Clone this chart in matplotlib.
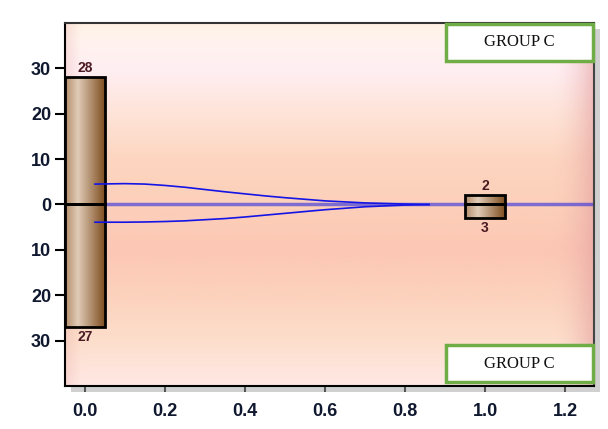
import numpy as np
import matplotlib
matplotlib.use("Agg")
import matplotlib.pyplot as plt
from matplotlib.patches import Rectangle
from matplotlib.colors import LinearSegmentedColormap

# ---- data ----
positions = [0.0, 1.0]
up_values = [28, 2]
down_values = [27, 3]
upper_x = [0.025, 0.1, 0.15, 0.2, 0.25, 0.3, 0.35, 0.4, 0.45, 0.5, 0.6, 0.7, 0.8, 0.86]
upper_y = [4.5, 4.6, 4.5, 4.2, 3.8, 3.3, 2.8, 2.35, 1.9, 1.5, 0.8, 0.35, 0.1, 0.0]
lower_x = [0.025, 0.1, 0.15, 0.2, 0.25, 0.3, 0.35, 0.4, 0.45, 0.5, 0.6, 0.7, 0.8, 0.86]
lower_y = [-3.9, -3.9, -3.85, -3.75, -3.6, -3.35, -3.1, -2.75, -2.35, -1.95, -1.15, -0.5, -0.12, 0.0]
xticks = [0.0, 0.2, 0.4, 0.6, 0.8, 1.0, 1.2]
xtick_labels = ["0.0", "0.2", "0.4", "0.6", "0.8", "1.0", "1.2"]
yticks = [-30, -20, -10, 0, 10, 20, 30]
ytick_labels = ["30", "20", "10", "0", "10", "20", "30"]
group_label = "GROUP C"

W, H = 608, 429
fig = plt.figure(figsize=(W / 100, H / 100), dpi=100)
fig.patch.set_facecolor("white")

L, R, T, B = 65, 594, 23, 386
ax = fig.add_axes([L / W, 1 - B / H, (R - L) / W, (B - T) / H])
ax.set_zorder(1)

# shadow
shadow = Rectangle(((L + 6) / W, 1 - (B + 6) / H), (R - L) / W, (B - T) / H,
                   transform=fig.transFigure, facecolor="#d0d0d0", edgecolor="none", zorder=-5)
fig.patches.append(shadow)

# background gradient
stops_px = np.array([23, 40, 70, 120, 160, 204, 250, 300, 340, 386])
stops_col = np.array([
    (255, 242, 228), (255, 243, 238), (255, 238, 242), (254, 226, 212),
    (253, 213, 192), (252, 208, 186), (252, 199, 180), (252, 211, 190),
    (253, 222, 203), (255, 232, 228)]) / 255.0
rows = np.linspace(23, 386, 200)
cols = np.linspace(65, 594, 300)
vert = np.stack([np.interp(rows, stops_px, stops_col[:, c]) for c in range(3)], axis=-1)
img = np.repeat(vert[:, None, :], len(cols), axis=1)
edge_col = np.array([228, 160, 160]) / 255.0
wr = (np.clip((cols - 550) / (594 - 550), 0, 1) ** 2) * 0.6
wl = np.clip((80 - cols) / 15, 0, 1) * 0.25
w = (wr + wl)[None, :, None]
img = img * (1 - w) + edge_col[None, None, :] * w
ax.imshow(img, extent=[0, 1, 0, 1], transform=ax.transAxes, aspect="auto",
          zorder=0, interpolation="bilinear")

# zero line
ax.axhline(0, color="#2a2ae0", alpha=0.6, lw=2.5, zorder=2)

# bars with gradient
bar_cmap = LinearSegmentedColormap.from_list(
    "barg", [(0.0, (0.70, 0.55, 0.41)), (0.32, (0.88, 0.80, 0.72)),
             (1.0, (0.50, 0.31, 0.13))])
grad = np.linspace(0, 1, 100)[None, :]
for vals, sign in ((up_values, 1), (down_values, -1)):
    bars = ax.bar(positions, [sign * v for v in vals], width=0.1, bottom=0,
                  facecolor="none", edgecolor="black", linewidth=2, zorder=4)
    for b in bars:
        x0, w_ = b.get_x(), b.get_width()
        y0, h_ = b.get_y(), b.get_height()
        im = ax.imshow(grad, cmap=bar_cmap, extent=[x0, x0 + w_, min(y0, y0 + h_), max(y0, y0 + h_)],
                       aspect="auto", zorder=3, interpolation="bilinear")
        im.set_clip_path(b)

ax.set_xlim(-0.05, 1.2725)
ax.set_ylim(-40, 40)

lab_col = "#4a1a22"
for x, v in zip(positions, up_values):
    ax.text(x, v + 0.5, str(v), ha="center", va="bottom", fontsize=10, fontweight="bold",
            color=lab_col, family="Liberation Sans", zorder=6)
for x, v in zip(positions, down_values):
    ax.text(x, -v - 0.6, str(v), ha="center", va="top", fontsize=10, fontweight="bold",
            color=lab_col, family="Liberation Sans", zorder=6)

# curves
ax.plot(upper_x, upper_y, color="#1414e6", lw=1.2, zorder=5)
ax.plot(lower_x, lower_y, color="#1414e6", lw=1.2, zorder=5)

# ticks
ax.set_xticks(xticks)
ax.set_xticklabels(xtick_labels)
ax.set_yticks(yticks)
ax.set_yticklabels(ytick_labels)
for lab in ax.get_xticklabels() + ax.get_yticklabels():
    lab.set_fontfamily("Liberation Sans")
    lab.set_fontweight("bold")
    lab.set_fontsize(13)
    lab.set_color("#101830")
ax.tick_params(axis="y", length=7, width=1.5, color="black", pad=3)
ax.tick_params(axis="x", length=4, width=1.5, color="#555555", pad=8)

for s in ax.spines.values():
    s.set_linewidth(1.5)
ax.spines["left"].set_color("black")
ax.spines["bottom"].set_color("black")
ax.spines["top"].set_color("#333333")
ax.spines["right"].set_color("#444444")

# group boxes
def group_box(y_top, y_bot):
    x0, x1 = 446, 593
    r = Rectangle((x0 / W, 1 - y_bot / H), (x1 - x0) / W, (y_bot - y_top) / H,
                  transform=fig.transFigure, facecolor="white", edgecolor="#70ad47",
                  linewidth=2.5, zorder=10)
    fig.patches.append(r)
    fig.text((x0 + x1) / 2 / W, 1 - (y_top + y_bot) / 2 / H, group_label, ha="center",
             va="center", fontsize=12, family="Liberation Serif", color="#111111", zorder=11)

group_box(24, 61)
group_box(345, 382)

fig.savefig("out.png", dpi=100, facecolor="white")
